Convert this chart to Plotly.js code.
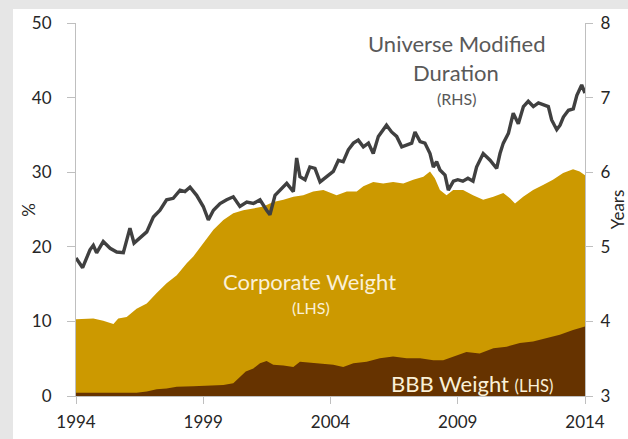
<!DOCTYPE html>
<html>
<head>
<meta charset="utf-8">
<script src="https://cdn.plot.ly/plotly-3.0.1.min.js"></script>
<style>
  html, body { margin: 0; padding: 0; width: 628px; height: 439px; background: #e6e6e6; overflow: hidden; }
  #chart { position: absolute; left: 13px; top: 9px; width: 615px; height: 430px; background: #ffffff; }
</style>
</head>
<body>
<div id="chart"></div>
<script>
// Universe modified duration (years, right axis)
const durX = [1994.0, 1994.26, 1994.55, 1994.68, 1994.81, 1995.07, 1995.34, 1995.6, 1995.86, 1996.12, 1996.28, 1996.51, 1996.78, 1997.04, 1997.3, 1997.56, 1997.82, 1998.09, 1998.28, 1998.48, 1998.74, 1999.0, 1999.2, 1999.4, 1999.66, 1999.92, 2000.18, 2000.44, 2000.71, 2000.97, 2001.23, 2001.49, 2001.62, 2001.82, 2002.02, 2002.28, 2002.54, 2002.67, 2002.8, 2003.0, 2003.19, 2003.39, 2003.59, 2003.85, 2004.11, 2004.31, 2004.5, 2004.7, 2004.9, 2005.09, 2005.29, 2005.49, 2005.68, 2005.88, 2006.07, 2006.2, 2006.4, 2006.6, 2006.8, 2006.99, 2007.19, 2007.32, 2007.52, 2007.71, 2007.91, 2008.04, 2008.17, 2008.3, 2008.5, 2008.63, 2008.83, 2009.0, 2009.2, 2009.4, 2009.6, 2009.74, 2010.0, 2010.27, 2010.53, 2010.66, 2010.79, 2010.99, 2011.18, 2011.38, 2011.58, 2011.77, 2011.97, 2012.17, 2012.36, 2012.56, 2012.69, 2012.89, 2013.02, 2013.15, 2013.35, 2013.54, 2013.68, 2013.87, 2014.0];
const durY = [4.85, 4.72, 4.96, 5.02, 4.92, 5.07, 4.98, 4.93, 4.92, 5.25, 5.05, 5.12, 5.2, 5.4, 5.49, 5.63, 5.65, 5.76, 5.74, 5.8, 5.69, 5.54, 5.36, 5.49, 5.58, 5.63, 5.67, 5.54, 5.6, 5.58, 5.63, 5.49, 5.43, 5.69, 5.76, 5.85, 5.74, 6.19, 5.94, 5.9, 6.07, 6.05, 5.87, 5.94, 6.01, 6.16, 6.14, 6.3, 6.39, 6.43, 6.34, 6.39, 6.25, 6.48, 6.57, 6.63, 6.54, 6.48, 6.34, 6.36, 6.39, 6.54, 6.41, 6.39, 6.25, 6.07, 6.14, 6.03, 5.96, 5.76, 5.88, 5.9, 5.88, 5.92, 5.88, 6.07, 6.25, 6.16, 6.05, 6.25, 6.39, 6.52, 6.79, 6.65, 6.88, 6.95, 6.88, 6.93, 6.9, 6.88, 6.7, 6.57, 6.63, 6.74, 6.83, 6.85, 7.03, 7.17, 7.06];

// Corporate weight (% , left axis)
const corpX = [1994.0, 1994.68, 1995.07, 1995.47, 1995.66, 1995.99, 1996.38, 1996.78, 1997.17, 1997.56, 1997.96, 1998.35, 1998.61, 1999.0, 1999.4, 1999.79, 2000.18, 2000.57, 2000.97, 2001.36, 2001.75, 2002.15, 2002.54, 2002.93, 2003.32, 2003.72, 2004.24, 2004.64, 2005.03, 2005.29, 2005.68, 2006.07, 2006.46, 2006.86, 2007.25, 2007.65, 2007.91, 2008.1, 2008.3, 2008.56, 2008.82, 2009.21, 2009.6, 2010.0, 2010.4, 2010.79, 2011.05, 2011.25, 2011.57, 2011.96, 2012.35, 2012.74, 2013.14, 2013.53, 2013.79, 2014.0];
const corpY = [10.3, 10.4, 10.1, 9.65, 10.4, 10.6, 11.7, 12.4, 13.8, 15.1, 16.2, 17.8, 18.7, 20.5, 22.3, 23.6, 24.5, 24.9, 25.2, 25.4, 26.0, 26.3, 26.7, 26.9, 27.4, 27.6, 26.9, 27.4, 27.4, 28.1, 28.7, 28.5, 28.7, 28.5, 29.0, 29.4, 30.1, 29.2, 27.6, 26.9, 27.6, 27.6, 26.9, 26.3, 26.7, 27.2, 26.5, 25.8, 26.7, 27.6, 28.3, 29.0, 29.9, 30.4, 30.1, 29.6];

// BBB weight (%, left axis)
const bbbX = [1994.0, 1995.0, 1996.38, 1996.78, 1997.17, 1997.56, 1997.96, 1998.61, 1999.2, 1999.79, 2000.18, 2000.44, 2000.67, 2000.97, 2001.23, 2001.49, 2001.75, 2002.15, 2002.54, 2002.8, 2003.19, 2003.72, 2004.11, 2004.5, 2004.9, 2005.42, 2005.94, 2006.46, 2006.99, 2007.52, 2008.04, 2008.43, 2008.82, 2009.34, 2009.86, 2010.4, 2010.92, 2011.44, 2011.96, 2012.48, 2013.01, 2013.53, 2014.0];
const bbbY = [0.45, 0.45, 0.45, 0.6, 0.9, 1.0, 1.25, 1.3, 1.4, 1.47, 1.7, 2.6, 3.3, 3.7, 4.4, 4.7, 4.2, 4.1, 3.9, 4.6, 4.5, 4.4, 4.2, 3.9, 4.4, 4.6, 5.05, 5.3, 5.05, 5.05, 4.8, 4.8, 5.3, 5.9, 5.7, 6.4, 6.6, 7.1, 7.3, 7.7, 8.2, 8.85, 9.3];

const xTicks = [1994, 1999, 2004, 2009, 2014];
const xTickText = ['1994', '1999', '2004', '2009', '2014'];
const leftTicks = [0, 10, 20, 30, 40, 50];
const rightTicks = [3, 4, 5, 6, 7, 8];

const FONT = 'Lato, "Open Sans", sans-serif';
const AXC = '#bfbfbf';
const TXT = '#262626';
const CREAM = '#faf0d7';

const traces = [
  { x: corpX, y: corpY, type: 'scatter', mode: 'lines', fill: 'tozeroy',
    fillcolor: '#cc9900', line: { width: 0, color: '#cc9900' }, name: 'Corporate Weight', hoverinfo: 'x+y' },
  { x: bbbX, y: bbbY, type: 'scatter', mode: 'lines', fill: 'tozeroy',
    fillcolor: '#663300', line: { width: 0, color: '#663300' }, name: 'BBB Weight', hoverinfo: 'x+y' },
  { x: durX, y: durY, type: 'scatter', mode: 'lines', yaxis: 'y2',
    line: { width: 3.4, color: '#404040' }, name: 'Universe Modified Duration' }
];

const layout = {
  width: 615, height: 430,
  margin: { l: 63, r: 43, t: 14, b: 43, pad: 0 },
  paper_bgcolor: '#ffffff', plot_bgcolor: '#ffffff',
  showlegend: false,
  font: { family: FONT, size: 17, color: TXT },
  xaxis: {
    range: [1994, 2014], tickmode: 'array', tickvals: xTicks, ticktext: xTickText,
    showgrid: false, zeroline: false, showline: true, linecolor: AXC, linewidth: 1,
    ticks: 'outside', ticklen: 7, tickcolor: AXC, tickwidth: 1,
    tickfont: { family: FONT, size: 17, color: TXT }, ticklabelstandoff: 4,
    automargin: false
  },
  yaxis: {
    range: [0, 50], tickmode: 'array', tickvals: leftTicks,
    showgrid: false, zeroline: false, showline: true, linecolor: AXC, linewidth: 1,
    ticks: 'outside', ticklen: 8, tickcolor: AXC, tickwidth: 1,
    tickfont: { family: FONT, size: 17, color: TXT }, ticklabelstandoff: 12,
    automargin: false
  },
  yaxis2: {
    range: [3, 8], tickmode: 'array', tickvals: rightTicks, overlaying: 'y', side: 'right',
    showgrid: false, zeroline: false, showline: true, linecolor: AXC, linewidth: 1,
    ticks: 'outside', ticklen: 7, tickcolor: AXC, tickwidth: 1,
    tickfont: { family: FONT, size: 17, color: TXT }, ticklabelstandoff: 4,
    title: { text: 'Years', font: { family: FONT, size: 17, color: TXT }, standoff: 2 },
    automargin: false
  },
  annotations: [
    { xref: 'paper', yref: 'y', x: -0.094, xanchor: 'center', y: 25, text: '%', showarrow: false, textangle: -90,
      font: { family: FONT, size: 17, color: TXT } },
    { xref: 'x', yref: 'y', x: 2008.95, y: 47.2, text: 'Universe Modified', showarrow: false,
      font: { family: FONT, size: 22, color: '#595959' } },
    { xref: 'x', yref: 'y', x: 2008.95, y: 43.4, text: 'Duration', showarrow: false,
      font: { family: FONT, size: 22, color: '#595959' } },
    { xref: 'x', yref: 'y', x: 2008.95, y: 39.9, text: '(RHS)', showarrow: false,
      font: { family: FONT, size: 16, color: '#595959' } },
    { xref: 'x', yref: 'y', x: 2003.19, y: 15.4, text: 'Corporate Weight', showarrow: false,
      font: { family: FONT, size: 22, color: CREAM } },
    { xref: 'x', yref: 'y', x: 2003.25, y: 11.8, text: '(LHS)', showarrow: false,
      font: { family: FONT, size: 16, color: CREAM } },
    { xref: 'x', yref: 'y', x: 2009.55, y: 1.74, text: 'BBB Weight <span style="font-size:16.5px">(LHS)</span>', showarrow: false,
      font: { family: FONT, size: 22, color: CREAM } }
  ]
};

Plotly.newPlot('chart', traces, layout, { displayModeBar: false, staticPlot: true });
</script>
</body>
</html>
